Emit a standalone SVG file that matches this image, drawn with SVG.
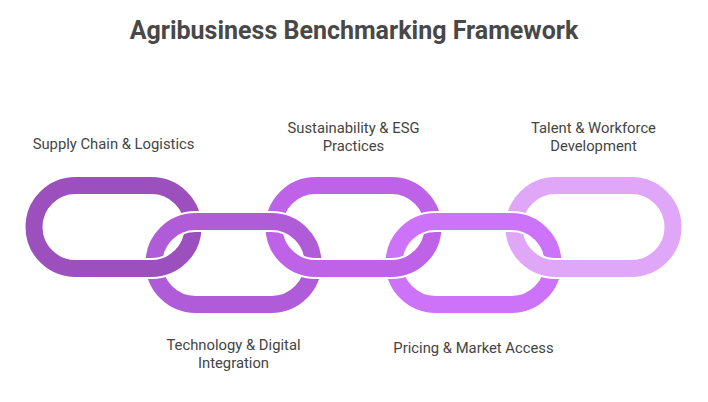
<svg xmlns="http://www.w3.org/2000/svg" xmlns:xlink="http://www.w3.org/1999/xlink" width="708" height="402" viewBox="0 0 708 402">
  <style>
    .title { font-family: Roboto, "Liberation Sans", sans-serif; font-weight: 700; font-size: 25px; fill: #484848; text-anchor: middle; }
    .label { font-family: Roboto, "Liberation Sans", sans-serif; font-size: 14.8px; fill: #444444; text-anchor: middle; }
    .gap { fill: none; stroke: #ffffff; stroke-width: 21; }
    .ring { fill: none; stroke-width: 17; }
    .c1 { stroke: #9c50be; }
    .c2 { stroke: #b05cd9; }
    .c3 { stroke: #be63e8; }
    .c4 { stroke: #cd73fa; }
    .c5 { stroke: #e0a6f8; }
  </style>
  <defs>
    <rect id="shape-l1" x="34" y="185.5" width="159" height="83" rx="41.5"/>
    <rect id="shape-l2" x="154" y="221.5" width="159" height="83" rx="41.5"/>
    <rect id="shape-l3" x="274" y="185.5" width="159" height="83" rx="41.5"/>
    <rect id="shape-l4" x="394" y="221.5" width="159" height="83" rx="41.5"/>
    <rect id="shape-l5" x="514" y="185.5" width="159" height="83" rx="41.5"/>
    <clipPath id="lower-half">
      <rect x="0" y="243" width="708" height="100"/>
    </clipPath>
  </defs>
  <rect width="708" height="402" fill="#ffffff"/>

  <text class="title" x="354" y="39">Agribusiness Benchmarking Framework</text>

  <g id="node-supply-chain">
    <use xlink:href="#shape-l1" class="gap"/>
    <use xlink:href="#shape-l1" class="ring c1"/>
    <text class="label" x="113.5" y="149">Supply Chain &amp; Logistics</text>
  </g>
  <g id="node-sustainability">
    <use xlink:href="#shape-l3" class="gap"/>
    <use xlink:href="#shape-l3" class="ring c3"/>
    <text class="label" x="353.5" y="133">Sustainability &amp; ESG</text>
    <text class="label" x="353.5" y="151">Practices</text>
  </g>
  <g id="node-talent">
    <use xlink:href="#shape-l5" class="gap"/>
    <use xlink:href="#shape-l5" class="ring c5"/>
    <text class="label" x="593.5" y="133">Talent &amp; Workforce</text>
    <text class="label" x="593.5" y="151">Development</text>
  </g>
  <g id="node-technology">
    <use xlink:href="#shape-l2" class="gap"/>
    <use xlink:href="#shape-l2" class="ring c2"/>
    <text class="label" x="233.5" y="350">Technology &amp; Digital</text>
    <text class="label" x="233.5" y="368">Integration</text>
  </g>
  <g id="node-pricing">
    <use xlink:href="#shape-l4" class="gap"/>
    <use xlink:href="#shape-l4" class="ring c4"/>
    <text class="label" x="473.5" y="353">Pricing &amp; Market Access</text>
  </g>

  <g id="connectors" clip-path="url(#lower-half)">
    <use xlink:href="#shape-l1" class="gap"/>
    <use xlink:href="#shape-l1" class="ring c1"/>
    <use xlink:href="#shape-l3" class="gap"/>
    <use xlink:href="#shape-l3" class="ring c3"/>
    <use xlink:href="#shape-l5" class="gap"/>
    <use xlink:href="#shape-l5" class="ring c5"/>
  </g>
</svg>
